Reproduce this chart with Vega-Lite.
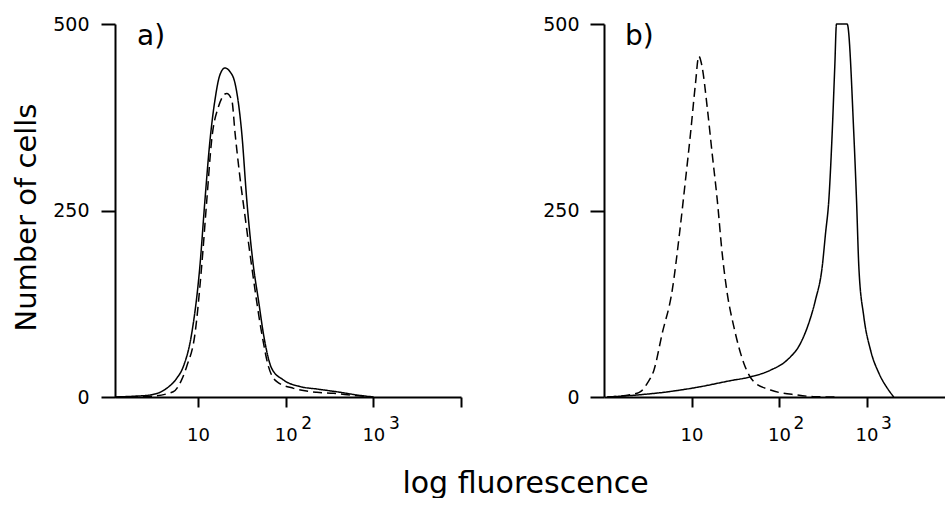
{
  "$schema": "https://vega.github.io/schema/vega-lite/v6.json",
  "padding": {"left": 12, "top": 15, "right": 0, "bottom": 0},
  "bounds": "flush",
  "spacing": 143,
  "background": "white",
  "config": {
    "view": {"stroke": null},
    "axis": {
      "grid": false,
      "domainColor": "black",
      "domainWidth": 2,
      "tickColor": "black",
      "tickWidth": 2,
      "labelColor": "black",
      "labelFont": "DejaVu Sans",
      "labelFontSize": 19,
      "titleFont": "DejaVu Sans",
      "titleColor": "black",
      "titleFontWeight": "normal"
    },
    "title": {"font": "DejaVu Sans", "fontSize": 28, "fontWeight": "normal", "color": "black"}
  },
  "datasets": {
    "curves": [
      {"panel": "a", "series": "solid", "fluorescence": 1.13, "cells": 0},
      {"panel": "a", "series": "solid", "fluorescence": 1.82, "cells": 1},
      {"panel": "a", "series": "solid", "fluorescence": 2.83, "cells": 2.7},
      {"panel": "a", "series": "solid", "fluorescence": 4.39, "cells": 11.6},
      {"panel": "a", "series": "solid", "fluorescence": 5.71, "cells": 25},
      {"panel": "a", "series": "solid", "fluorescence": 6.79, "cells": 40.6},
      {"panel": "a", "series": "solid", "fluorescence": 8.47, "cells": 85},
      {"panel": "a", "series": "solid", "fluorescence": 10.5, "cells": 175},
      {"panel": "a", "series": "solid", "fluorescence": 12.0, "cells": 264},
      {"panel": "a", "series": "solid", "fluorescence": 13.7, "cells": 344},
      {"panel": "a", "series": "solid", "fluorescence": 15.6, "cells": 398},
      {"panel": "a", "series": "solid", "fluorescence": 17.8, "cells": 432},
      {"panel": "a", "series": "solid", "fluorescence": 20.3, "cells": 441},
      {"panel": "a", "series": "solid", "fluorescence": 23.2, "cells": 436},
      {"panel": "a", "series": "solid", "fluorescence": 26.5, "cells": 420},
      {"panel": "a", "series": "solid", "fluorescence": 31.6, "cells": 353},
      {"panel": "a", "series": "solid", "fluorescence": 36.0, "cells": 264},
      {"panel": "a", "series": "solid", "fluorescence": 42.9, "cells": 175},
      {"panel": "a", "series": "solid", "fluorescence": 48.9, "cells": 130},
      {"panel": "a", "series": "solid", "fluorescence": 55.7, "cells": 85},
      {"panel": "a", "series": "solid", "fluorescence": 69.5, "cells": 38},
      {"panel": "a", "series": "solid", "fluorescence": 94.4, "cells": 22.8},
      {"panel": "a", "series": "solid", "fluorescence": 146.5, "cells": 13.9},
      {"panel": "a", "series": "solid", "fluorescence": 227, "cells": 10.7},
      {"panel": "a", "series": "solid", "fluorescence": 420, "cells": 6.3},
      {"panel": "a", "series": "solid", "fluorescence": 650, "cells": 2.7},
      {"panel": "a", "series": "solid", "fluorescence": 1008, "cells": 0},
      {"panel": "a", "series": "dashed", "fluorescence": 1.13, "cells": 0},
      {"panel": "a", "series": "dashed", "fluorescence": 2.83, "cells": 1},
      {"panel": "a", "series": "dashed", "fluorescence": 5.22, "cells": 7},
      {"panel": "a", "series": "dashed", "fluorescence": 6.5, "cells": 23},
      {"panel": "a", "series": "dashed", "fluorescence": 7.43, "cells": 41},
      {"panel": "a", "series": "dashed", "fluorescence": 9.24, "cells": 85},
      {"panel": "a", "series": "dashed", "fluorescence": 11.0, "cells": 175},
      {"panel": "a", "series": "dashed", "fluorescence": 12.6, "cells": 264},
      {"panel": "a", "series": "dashed", "fluorescence": 14.3, "cells": 344},
      {"panel": "a", "series": "dashed", "fluorescence": 17.1, "cells": 389},
      {"panel": "a", "series": "dashed", "fluorescence": 21.3, "cells": 407},
      {"panel": "a", "series": "dashed", "fluorescence": 24.3, "cells": 398},
      {"panel": "a", "series": "dashed", "fluorescence": 26.5, "cells": 353},
      {"panel": "a", "series": "dashed", "fluorescence": 29.7, "cells": 300},
      {"panel": "a", "series": "dashed", "fluorescence": 34.4, "cells": 242},
      {"panel": "a", "series": "dashed", "fluorescence": 41.0, "cells": 175},
      {"panel": "a", "series": "dashed", "fluorescence": 53.4, "cells": 85},
      {"panel": "a", "series": "dashed", "fluorescence": 63.6, "cells": 41},
      {"panel": "a", "series": "dashed", "fluorescence": 79.3, "cells": 20.6},
      {"panel": "a", "series": "dashed", "fluorescence": 123, "cells": 11.6},
      {"panel": "a", "series": "dashed", "fluorescence": 227, "cells": 6.3},
      {"panel": "a", "series": "dashed", "fluorescence": 352, "cells": 4.9},
      {"panel": "a", "series": "dashed", "fluorescence": 546, "cells": 2.7},
      {"panel": "a", "series": "dashed", "fluorescence": 847, "cells": 0.5},
      {"panel": "b", "series": "dashed", "fluorescence": 1.09, "cells": 0},
      {"panel": "b", "series": "dashed", "fluorescence": 2.39, "cells": 4.9},
      {"panel": "b", "series": "dashed", "fluorescence": 2.61, "cells": 7.1},
      {"panel": "b", "series": "dashed", "fluorescence": 3.12, "cells": 18.3},
      {"panel": "b", "series": "dashed", "fluorescence": 3.72, "cells": 36},
      {"panel": "b", "series": "dashed", "fluorescence": 4.62, "cells": 85},
      {"panel": "b", "series": "dashed", "fluorescence": 6.02, "cells": 143},
      {"panel": "b", "series": "dashed", "fluorescence": 7.29, "cells": 219},
      {"panel": "b", "series": "dashed", "fluorescence": 8.54, "cells": 291},
      {"panel": "b", "series": "dashed", "fluorescence": 9.74, "cells": 353},
      {"panel": "b", "series": "dashed", "fluorescence": 11.1, "cells": 420},
      {"panel": "b", "series": "dashed", "fluorescence": 12.1, "cells": 457},
      {"panel": "b", "series": "dashed", "fluorescence": 13.2, "cells": 443},
      {"panel": "b", "series": "dashed", "fluorescence": 15.1, "cells": 389},
      {"panel": "b", "series": "dashed", "fluorescence": 17.2, "cells": 327},
      {"panel": "b", "series": "dashed", "fluorescence": 19.7, "cells": 264},
      {"panel": "b", "series": "dashed", "fluorescence": 22.4, "cells": 193},
      {"panel": "b", "series": "dashed", "fluorescence": 25.6, "cells": 139},
      {"panel": "b", "series": "dashed", "fluorescence": 30.5, "cells": 94},
      {"panel": "b", "series": "dashed", "fluorescence": 39.7, "cells": 45},
      {"panel": "b", "series": "dashed", "fluorescence": 51.5, "cells": 20.6},
      {"panel": "b", "series": "dashed", "fluorescence": 80, "cells": 9.4},
      {"panel": "b", "series": "dashed", "fluorescence": 161, "cells": 2.7},
      {"panel": "b", "series": "dashed", "fluorescence": 250, "cells": 0.5},
      {"panel": "b", "series": "dashed", "fluorescence": 462, "cells": 0},
      {"panel": "b", "series": "solid", "fluorescence": 1.09, "cells": 0},
      {"panel": "b", "series": "solid", "fluorescence": 2.39, "cells": 2.7},
      {"panel": "b", "series": "solid", "fluorescence": 4.83, "cells": 6.3},
      {"panel": "b", "series": "solid", "fluorescence": 11.6, "cells": 13},
      {"panel": "b", "series": "solid", "fluorescence": 27.9, "cells": 21.9},
      {"panel": "b", "series": "solid", "fluorescence": 47.2, "cells": 27},
      {"panel": "b", "series": "solid", "fluorescence": 80, "cells": 36},
      {"panel": "b", "series": "solid", "fluorescence": 124, "cells": 49.6},
      {"panel": "b", "series": "solid", "fluorescence": 176, "cells": 72},
      {"panel": "b", "series": "solid", "fluorescence": 219, "cells": 99},
      {"panel": "b", "series": "solid", "fluorescence": 261, "cells": 130},
      {"panel": "b", "series": "solid", "fluorescence": 312, "cells": 175},
      {"panel": "b", "series": "solid", "fluorescence": 340, "cells": 219},
      {"panel": "b", "series": "solid", "fluorescence": 371, "cells": 264},
      {"panel": "b", "series": "solid", "fluorescence": 405, "cells": 353},
      {"panel": "b", "series": "solid", "fluorescence": 434, "cells": 443},
      {"panel": "b", "series": "solid", "fluorescence": 454, "cells": 500},
      {"panel": "b", "series": "solid", "fluorescence": 601, "cells": 500},
      {"panel": "b", "series": "solid", "fluorescence": 716, "cells": 353},
      {"panel": "b", "series": "solid", "fluorescence": 769, "cells": 264},
      {"panel": "b", "series": "solid", "fluorescence": 817, "cells": 175},
      {"panel": "b", "series": "solid", "fluorescence": 931, "cells": 108},
      {"panel": "b", "series": "solid", "fluorescence": 1111, "cells": 63},
      {"panel": "b", "series": "solid", "fluorescence": 1384, "cells": 32},
      {"panel": "b", "series": "solid", "fluorescence": 1725, "cells": 12},
      {"panel": "b", "series": "solid", "fluorescence": 2051, "cells": 0}
    ],
    "exponents": [
      {"value": 100, "exponent": "2"},
      {"value": 1000, "exponent": "3"}
    ]
  },
  "hconcat": [
    {
      "width": 346,
      "height": 373,
      "title": {"text": "a)", "anchor": "start", "frame": "group", "baseline": "alphabetic", "dx": 22, "dy": 58, "offset": 0},
      "layer": [
        {
          "data": {"name": "curves"},
          "transform": [{"filter": "datum.panel === 'a'"}],
          "mark": {"type": "line", "color": "black", "strokeWidth": 1.5, "interpolate": "monotone"},
          "encoding": {
            "x": {
              "field": "fluorescence", "type": "quantitative",
              "scale": {"type": "log", "domain": [1.13, 10000], "nice": false},
              "axis": {
                "values": [10, 100, 1000, 10000],
                "labelExpr": "datum.value >= 10000 ? '' : '10'",
                "labelFontSize": 18,
                "tickSize": 10,
                "labelPadding": 19,
                "title": "log fluorescence",
                "titleFontSize": 30,
                "titleX": 410,
                "titleY": 95,
                "titleAlign": "center",
                "titleBaseline": "alphabetic",
                "encode": {"labels": {"update": {"dx": {"signal": "datum.value >= 100 ? -4 : 0"}}}}
              }
            },
            "y": {
              "field": "cells", "type": "quantitative",
              "scale": {"domain": [0, 500], "nice": false},
              "axis": {
                "values": [0, 250, 500],
                "tickSize": 14,
                "labelPadding": 12,
                "title": "Number of cells",
                "titleFontSize": 29,
                "titleAngle": 270,
                "titleX": -80,
                "titleY": 193,
                "titleAlign": "center",
                "titleBaseline": "alphabetic"
              }
            },
            "detail": {"field": "series"},
            "strokeDash": {
              "field": "series", "type": "nominal",
              "scale": {"domain": ["solid", "dashed"], "range": [[1, 0], [9, 5]]},
              "legend": null
            }
          }
        },
        {
          "data": {"name": "exponents"},
          "mark": {"type": "text", "font": "DejaVu Sans", "fontSize": 17, "color": "black", "align": "center", "baseline": "alphabetic", "dx": 21, "dy": 32},
          "encoding": {
            "x": {"field": "value", "type": "quantitative"},
            "y": {"datum": 0},
            "text": {"field": "exponent"}
          }
        }
      ]
    },
    {
      "width": 341,
      "height": 373,
      "title": {"text": "b)", "anchor": "start", "frame": "group", "baseline": "alphabetic", "dx": 21, "dy": 58, "offset": 0},
      "layer": [
        {
          "data": {"name": "curves"},
          "transform": [{"filter": "datum.panel === 'b'"}],
          "mark": {"type": "line", "color": "black", "strokeWidth": 1.5, "interpolate": "monotone"},
          "encoding": {
            "x": {
              "field": "fluorescence", "type": "quantitative",
              "scale": {"type": "log", "domain": [1, 7890], "nice": false},
              "axis": {
                "values": [10, 100, 1000],
                "labelExpr": "'10'",
                "labelFontSize": 18,
                "tickSize": 10,
                "labelPadding": 19,
                "title": null,
                "encode": {"labels": {"update": {"dx": {"signal": "datum.value >= 100 ? -3 : 0"}}}}
              }
            },
            "y": {
              "field": "cells", "type": "quantitative",
              "scale": {"domain": [0, 500], "nice": false},
              "axis": {
                "values": [0, 250, 500],
                "tickSize": 14,
                "labelPadding": 11,
                "title": null
              }
            },
            "detail": {"field": "series"},
            "strokeDash": {
              "field": "series", "type": "nominal",
              "scale": {"domain": ["solid", "dashed"], "range": [[1, 0], [9, 5]]},
              "legend": null
            }
          }
        },
        {
          "data": {"name": "exponents"},
          "mark": {"type": "text", "font": "DejaVu Sans", "fontSize": 17, "color": "black", "align": "center", "baseline": "alphabetic", "dx": 20, "dy": 32},
          "encoding": {
            "x": {"field": "value", "type": "quantitative"},
            "y": {"datum": 0},
            "text": {"field": "exponent"}
          }
        }
      ]
    }
  ]
}
